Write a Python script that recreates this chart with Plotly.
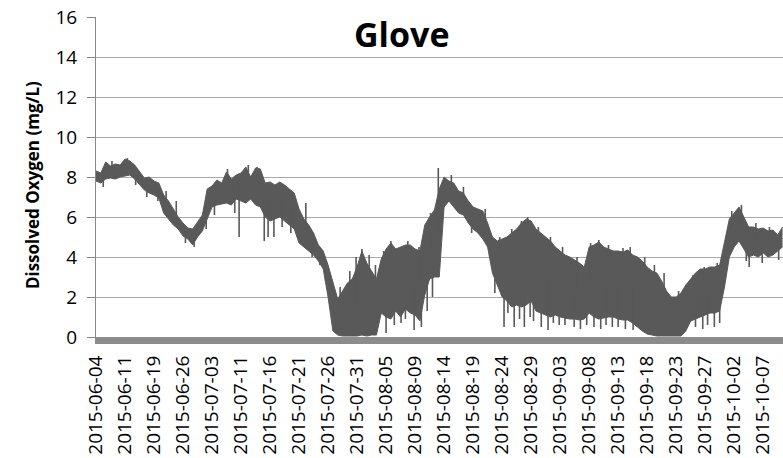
import plotly.graph_objects as go

# Dissolved oxygen record, Glove site, summer–autumn 2015.
# Each sample step is one sixth of the spacing between labelled dates;
# for every step the band gives the low and high reading in mg/L.
tick_labels = [
    "2015-06-04", "2015-06-11", "2015-06-19", "2015-06-26", "2015-07-03",
    "2015-07-11", "2015-07-16", "2015-07-21", "2015-07-26", "2015-07-31",
    "2015-08-05", "2015-08-09", "2015-08-14", "2015-08-19", "2015-08-24",
    "2015-08-29", "2015-09-03", "2015-09-08", "2015-09-13", "2015-09-18",
    "2015-09-23", "2015-09-27", "2015-10-02", "2015-10-07",
]
steps_per_label = 6

do_high = [
    8.30, 8.20, 8.75, 8.55, 8.65, 8.60, 8.90, 8.80, 8.60, 8.30,
    7.95, 8.00, 7.80, 7.70, 7.10, 6.80, 6.40, 6.00, 5.70, 5.45,
    5.40, 5.75, 6.10, 7.40, 7.55, 7.85, 7.70, 8.25, 7.90, 8.10,
    8.20, 8.50, 8.00, 8.45, 8.40, 7.70, 7.75, 7.60, 7.75, 7.60,
    7.40, 7.20, 6.40, 5.90, 5.60, 5.20, 4.60, 4.30, 3.60, 2.80,
    1.90, 2.30, 2.70, 2.90, 3.50, 4.30, 3.70, 3.30, 2.90, 3.90,
    4.40, 4.70, 4.40, 4.50, 4.60, 4.60, 4.40, 4.30, 5.60, 6.00,
    6.35, 7.40, 8.00, 7.80, 7.70, 7.30, 7.20, 6.80, 6.50, 6.40,
    6.30, 5.70, 5.00, 4.80, 4.90, 5.00, 5.20, 5.40, 5.70, 5.90,
    5.80, 5.40, 5.20, 5.00, 4.80, 4.50, 4.30, 4.10, 4.00, 3.85,
    3.70, 3.50, 4.50, 4.60, 4.75, 4.50, 4.40, 4.30, 4.30, 4.25,
    4.35, 4.10, 4.00, 3.80, 3.50, 3.30, 3.20, 2.80, 2.30, 2.00,
    2.00, 2.20, 2.60, 2.90, 3.20, 3.40, 3.40, 3.50, 3.50, 3.60,
    4.80, 5.90, 6.20, 6.50, 6.00, 5.50, 5.50, 5.40, 5.45, 5.30,
    5.35, 5.10, 5.50,
]
do_low = [
    7.80, 7.70, 7.90, 7.95, 7.90, 8.00, 8.05, 8.10, 7.90, 7.60,
    7.35, 7.20, 7.10, 6.95, 6.20, 5.90, 5.60, 5.40, 5.05, 4.90,
    4.60, 5.00, 5.30, 5.90, 6.50, 6.60, 6.65, 6.70, 6.60, 6.90,
    6.80, 6.70, 6.90, 6.60, 6.50, 6.00, 5.80, 5.90, 6.00, 5.80,
    5.60, 5.40, 4.70, 4.50, 4.30, 4.10, 3.80, 3.40, 2.00, 0.30,
    0.10, 0.05, 0.05, 0.05, 0.05, 0.10, 0.05, 0.10, 0.10, 1.20,
    1.00, 0.90, 1.30, 1.00, 1.40, 1.20, 1.10, 0.80, 2.10, 2.90,
    3.00, 3.00, 6.50, 6.80, 6.50, 6.20, 6.10, 5.70, 5.40, 5.20,
    4.90, 4.50, 3.20, 2.60, 2.00, 1.80, 1.50, 1.60, 1.50, 1.60,
    1.80, 1.30, 1.20, 1.10, 1.00, 1.10, 1.00, 0.95, 0.90, 0.90,
    0.85, 0.90, 1.20, 1.00, 0.90, 0.95, 1.00, 1.00, 0.90, 0.85,
    0.85, 0.70, 0.50, 0.30, 0.15, 0.10, 0.05, 0.05, 0.05, 0.05,
    0.05, 0.05, 0.30, 0.80, 0.90, 1.00, 1.10, 1.20, 1.20, 1.30,
    2.50, 4.00, 4.50, 4.80, 4.40, 4.00, 4.10, 4.00, 4.20, 4.00,
    4.10, 4.30, 4.50,
]

# Short-lived excursions beyond the daily band (step position, mg/L)
spike_step = [
    1.5, 3.3, 6.5, 8.2, 10.5, 12.8, 14.5, 16.6, 18.5, 20.3, 22.8,
    24.5, 27.2, 28.7, 29.6, 31.5, 33.3, 34.8, 35.6, 36.8, 38.5, 40.3,
    41.5, 43.4, 44.7, 46.3, 47.5,
    50.5, 52.5, 53.8, 55.0, 56.5, 57.8, 59.5, 61.0, 64.5, 66.8, 69.2,
    70.8, 58.3, 60.0, 61.7, 63.1, 64.0, 65.8, 67.3, 68.5, 69.6,
    73.5, 76.0, 77.7, 79.0, 80.5, 81.5,
    82.5, 84.4, 85.2, 86.5, 87.6, 88.6, 89.8, 90.5, 92.1, 93.5, 94.6,
    95.8, 97.0, 98.9, 100.2, 101.5, 103.0, 104.4, 105.5, 106.8, 108.0,
    109.5, 111.1, 124.0, 125.5, 126.5, 127.9, 129.0,
    83.5, 86.0, 88.0, 89.3, 91.5, 94.0, 96.5, 99.5, 102.3, 104.0, 106.0,
    109.0, 110.5, 113.5, 115.5, 117.5, 120.5, 123.5, 125.8, 128.5, 129.6,
    131.5, 133.5, 134.5, 135.1, 136.5, 137.8, 139.3, 141.2,
]
spike_value = [
    7.5, 8.8, 8.95, 7.6, 7.0, 6.8, 7.3, 6.8, 4.7, 4.5, 5.4,
    6.1, 8.4, 6.2, 5.0, 8.6, 8.5, 4.8, 5.0, 5.0, 5.5, 5.2,
    5.3, 6.7, 4.0, 3.6, 3.0,
    2.5, 3.3, 4.0, 4.4, 4.1, 3.6, 4.3, 4.8, 4.8, 4.5, 6.2,
    8.45, 0.7, 0.2, 0.6, 0.7, 0.9, 0.35, 0.5, 1.3, 2.0,
    8.1, 7.5, 5.2, 5.35, 6.4, 4.0,
    2.2, 0.5, 1.2, 0.5, 0.9, 0.5, 1.0, 0.8, 0.5, 0.35, 0.7,
    0.6, 0.6, 0.5, 0.4, 0.6, 0.5, 0.4, 0.6, 0.5, 0.5,
    0.4, 0.35, 0.5, 0.4, 0.6, 0.5, 0.7,
    5.0, 5.4, 5.8, 6.0, 5.5, 5.0, 4.5, 4.0, 4.7, 4.85, 4.6,
    4.45, 4.5, 4.0, 3.6, 3.2, 2.3, 3.1, 3.5, 3.7, 4.0,
    6.3, 6.6, 3.8, 3.5, 5.7, 3.7, 5.5, 3.85,
]

steps = list(range(len(do_high)))
band_color = "#595959"

fig = go.Figure()
fig.add_trace(go.Scatter(
    x=steps, y=do_low, mode="lines",
    line=dict(color=band_color, width=1), hoverinfo="skip", showlegend=False,
))
fig.add_trace(go.Scatter(
    x=steps, y=do_high, mode="lines", fill="tonexty", fillcolor=band_color,
    line=dict(color=band_color, width=1), showlegend=False,
))

# Spikes start from the middle of the band at the nearest step
sx, sy = [], []
for s, v in zip(spike_step, spike_value):
    k = min(max(int(round(s)), 0), len(steps) - 1)
    sx += [s, s, None]
    sy += [(do_high[k] + do_low[k]) / 2, v, None]
fig.add_trace(go.Scatter(
    x=sx, y=sy, mode="lines", line=dict(color=band_color, width=1.6),
    hoverinfo="skip", showlegend=False,
))

tick_pos = [i * steps_per_label for i in range(len(tick_labels))]

fig.update_layout(
    width=783, height=458,
    margin=dict(l=96, r=0, t=17, b=121),
    paper_bgcolor="white", plot_bgcolor="white",
    font=dict(family="Open Sans", color="black"),
    xaxis=dict(
        range=[0, 142.1],
        tickvals=tick_pos, ticktext=tick_labels, tickangle=-90,
        tickfont=dict(family="Open Sans", size=19, color="black"),
        showgrid=False, zeroline=False,
        showline=True, linecolor="#8c8c8c", linewidth=7,
        ticks="", ticklabelstandoff=4,
    ),
    yaxis=dict(
        range=[0, 16], dtick=2,
        tickfont=dict(family="Open Sans", size=19, color="black"),
        showgrid=True, gridcolor="#a9a9a9", gridwidth=1,
        zeroline=False,
        showline=True, linecolor="#888888", linewidth=1,
        ticks="outside", ticklen=8, tickcolor="#888888",
        ticklabelstandoff=6,
    ),
    annotations=[
        dict(text="<b>Glove</b>", xref="paper", yref="paper",
             x=0.445, y=0.947, xanchor="center", yanchor="middle",
             showarrow=False,
             font=dict(family="Open Sans", size=34, color="black")),
        dict(text="<b>Dissolved Oxygen (mg/L)</b>", xref="paper", yref="paper",
             x=-0.093, y=0.475, xanchor="center", yanchor="middle",
             textangle=-90, showarrow=False,
             font=dict(family="Open Sans", size=17, color="black")),
    ],
)

fig.write_html("out.html")
